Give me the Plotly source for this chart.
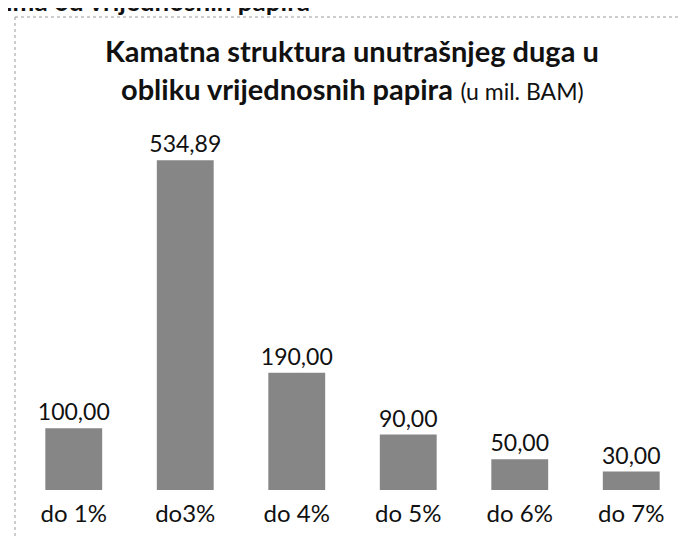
import plotly.graph_objects as go

categories = ["do 1%", "do3%", "do 4%", "do 5%", "do 6%", "do 7%"]
values = [100.00, 534.89, 190.00, 90.00, 50.00, 30.00]
value_labels = ["100,00", "534,89", "190,00", "90,00", "50,00", "30,00"]

title_bold_1 = "Kamatna struktura unutrašnjeg duga u"
title_bold_2 = "obliku vrijednosnih papira"
title_unit = "(u mil. BAM)"
cut_heading = "ima od vrijednosnih papira"

W, H = 688, 536
ml, mr, mt, mb = 10, 9, 112, 54
bar_grey = '#868686'
font_name = 'Lato, Carlito, Calibri, sans-serif'


def px_x(x):
    # pixel column -> paper coordinate
    return (x - ml) / (W - ml - mr)


def px_y(y):
    # pixel row -> paper coordinate
    return 1 - (y - mt) / (H - mt - mb)


fig = go.Figure(go.Bar(
    x=categories,
    y=values,
    text=value_labels,
    textposition='outside',
    constraintext='none',
    textfont=dict(family=font_name, size=23, color='#111111'),
    cliponaxis=False,
    marker=dict(color=bar_grey, line=dict(width=0)),
))

fig.update_layout(
    width=W, height=H,
    plot_bgcolor='white',
    paper_bgcolor='white',
    margin=dict(l=ml, r=mr, t=mt, b=mb),
    bargap=0.49,
    showlegend=False,
    font=dict(family=font_name, color='#111111'),
)
fig.update_xaxes(
    showgrid=False, showline=False, zeroline=False, ticks='',
    tickfont=dict(family=font_name, size=24, color='#111111'),
    ticklabelstandoff=7,
)
fig.update_yaxes(
    range=[0, 600], visible=False, showgrid=False, zeroline=False,
)

# title, two lines
fig.add_annotation(
    text='<b>' + title_bold_1 + '</b>',
    xref='paper', yref='paper', x=px_x(344), y=px_y(43),
    xanchor='center', yanchor='middle', showarrow=False,
    font=dict(family=font_name, size=29, color='#111111'),
)
fig.add_annotation(
    text='<b>' + title_bold_2 + '</b> <span style="font-size:23px">' + title_unit + '</span>',
    xref='paper', yref='paper', x=px_x(344), y=px_y(81),
    xanchor='center', yanchor='middle', showarrow=False,
    font=dict(family=font_name, size=29, color='#111111'),
)

# heading of the page, cut off by the scan
fig.add_annotation(
    text='<b>' + cut_heading + '</b>',
    xref='paper', yref='paper', x=px_x(-4), y=px_y(-7),
    xanchor='left', yanchor='middle', showarrow=False,
    font=dict(family=font_name, size=26, color='#111111'),
)

# frame of the chart box (dotted, light)
fig.add_shape(type='line', xref='paper', yref='paper',
              x0=px_x(7), x1=px_x(688), y0=px_y(9), y1=px_y(9),
              line=dict(color='#9a9a9a', width=1, dash='dot'))
fig.add_shape(type='line', xref='paper', yref='paper',
              x0=px_x(7), x1=px_x(7), y0=px_y(9), y1=px_y(536),
              line=dict(color='#9a9a9a', width=1, dash='dot'))

fig.write_html("out.html")
